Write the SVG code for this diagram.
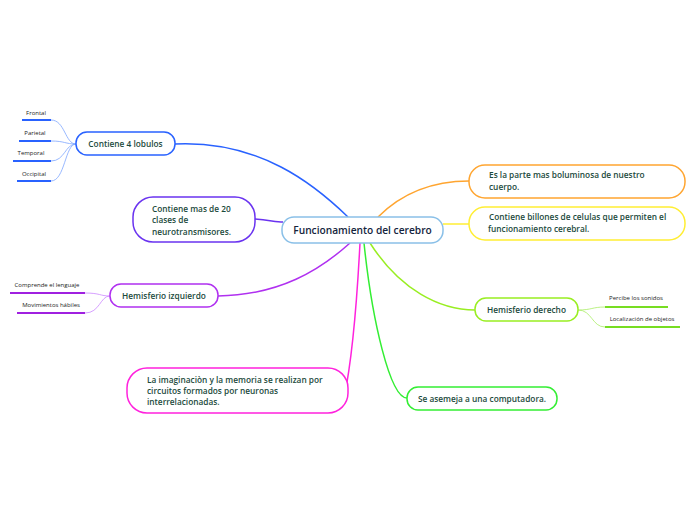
<svg xmlns="http://www.w3.org/2000/svg" width="696" height="520" viewBox="0 0 696 520">
<style>
.n{fill:#fff;stroke-width:1.5}
.t{font-family:"Open Sans","Noto Sans",sans-serif;font-size:8.3px;font-weight:600;fill:#1b4a3c}
.c{font-family:"Open Sans","Noto Sans",sans-serif;font-size:10.2px;font-weight:600;fill:#14243d}
.l{font-family:"Open Sans","Noto Sans",sans-serif;font-size:6px;fill:#222}
.k{fill:none;stroke-width:1.5}
.s{fill:none;stroke-width:0.8}
.u{stroke-width:2}
</style>
<rect width="696" height="520" fill="#fff"/>
<g id="connectors">
<path class="k" stroke="#2962ff" d="M175,144 C260,140 315,185 348,217"/>
<path class="k" stroke="#6a33f0" d="M255,219 C270,220 275,222 283,222"/>
<path class="k" stroke="#b030f0" d="M218,296 C280,295 320,270 350,243"/>
<path class="k" stroke="#ff22dd" d="M360,243 C356,320 350,370 344,398"/>
<path class="k" stroke="#33ee33" d="M364,243 C372,320 390,398 407,398"/>
<path class="k" stroke="#99ee22" d="M370,243 C400,290 440,310 475,310"/>
<path class="k" stroke="#ffa530" d="M378,217 C400,195 430,181 469,181"/>
<path class="k" stroke="#ffee33" d="M443,224 C455,224 460,224 469,224"/>
<g stroke="#7ea6ff">
<path class="s" d="M51,120 C65,120 65,144 76,144"/>
<path class="s" d="M51,141 C65,141 65,144 76,144"/>
<path class="s" d="M51,161 C65,161 65,144 76,144"/>
<path class="s" d="M51,181 C65,181 65,144 76,144"/>
</g>
<g stroke="#cc88ff">
<path class="s" d="M85,293 C100,293 100,296 110,296"/>
<path class="s" d="M85,313 C100,313 100,296 110,296"/>
</g>
<g stroke="#aaee66">
<path class="s" d="M578,310 C592,310 592,307 605,307"/>
<path class="s" d="M578,310 C592,310 592,327 605,327"/>
</g>
</g>
<g id="central"><rect class="n" stroke="#8ac0e8" x="282" y="217" width="161" height="26" rx="12"/><text class="c" x="362.5" y="234" text-anchor="middle">Funcionamiento del cerebro</text></g>
<g id="lobulos"><rect class="n" stroke="#2962ff" x="76" y="132" width="99" height="23" rx="11"/><text class="t" x="125.5" y="147" text-anchor="middle">Contiene 4 lobulos</text></g>
<g id="frontal"><line class="u" stroke="#2962ff" x1="22" y1="120" x2="51" y2="120"/><text class="l" x="36" y="115" text-anchor="middle">Frontal</text></g>
<g id="parietal"><line class="u" stroke="#2962ff" x1="19" y1="141" x2="51" y2="141"/><text class="l" x="35" y="135" text-anchor="middle">Parietal</text></g>
<g id="temporal"><line class="u" stroke="#2962ff" x1="13" y1="161" x2="51" y2="161"/><text class="l" x="31" y="155" text-anchor="middle">Temporal</text></g>
<g id="occipital"><line class="u" stroke="#2962ff" x1="17" y1="181" x2="51" y2="181"/><text class="l" x="34" y="176" text-anchor="middle">Occipital</text></g>
<g id="neuro"><rect class="n" stroke="#6a33f0" x="133" y="197" width="122" height="45" rx="20"/><text class="t" x="152" y="212">Contiene mas de 20</text><text class="t" x="152" y="223">clases de</text><text class="t" x="152" y="235">neurotransmisores.</text></g>
<g id="izq"><rect class="n" stroke="#b030f0" x="110" y="284" width="108" height="23" rx="11"/><text class="t" x="164" y="299" text-anchor="middle">Hemisferio izquierdo</text></g>
<g id="lenguaje"><line class="u" stroke="#a020e0" x1="10" y1="293" x2="85" y2="293"/><text class="l" x="47" y="287" text-anchor="middle">Comprende el lenguaje</text></g>
<g id="habiles"><line class="u" stroke="#a020e0" x1="17" y1="313" x2="85" y2="313"/><text class="l" x="51" y="307" text-anchor="middle">Movimientos hábiles</text></g>
<g id="imaginacion"><rect class="n" stroke="#ff22dd" x="127" y="368" width="221" height="45" rx="20"/><text class="t" x="147" y="383">La imaginaciòn y la memoria se realizan por</text><text class="t" x="147" y="394">circuitos formados por neuronas</text><text class="t" x="147" y="405">interrelacionadas.</text></g>
<g id="computadora"><rect class="n" stroke="#33ee33" x="407" y="387" width="150" height="23" rx="11"/><text class="t" x="482" y="402" text-anchor="middle">Se asemeja a una computadora.</text></g>
<g id="der"><rect class="n" stroke="#99ee22" x="475" y="298" width="103" height="23" rx="11"/><text class="t" x="526.5" y="313" text-anchor="middle">Hemisferio derecho</text></g>
<g id="sonidos"><line class="u" stroke="#77dd22" x1="605" y1="307" x2="668" y2="307"/><text class="l" x="636" y="300" text-anchor="middle">Percibe los sonidos</text></g>
<g id="objetos"><line class="u" stroke="#77dd22" x1="605" y1="327" x2="680" y2="327"/><text class="l" x="642" y="321" text-anchor="middle">Localización de objetos</text></g>
<g id="parte"><rect class="n" stroke="#ffa530" x="469" y="165" width="216" height="33" rx="16"/><text class="t" x="489" y="178">Es la parte mas boluminosa de nuestro</text><text class="t" x="489" y="190">cuerpo.</text></g>
<g id="billones"><rect class="n" stroke="#ffee33" x="469" y="207" width="216" height="33" rx="16"/><text class="t" x="489" y="220">Contiene billones de celulas que permiten el</text><text class="t" x="488" y="232">funcionamiento cerebral.</text></g>
</svg>
